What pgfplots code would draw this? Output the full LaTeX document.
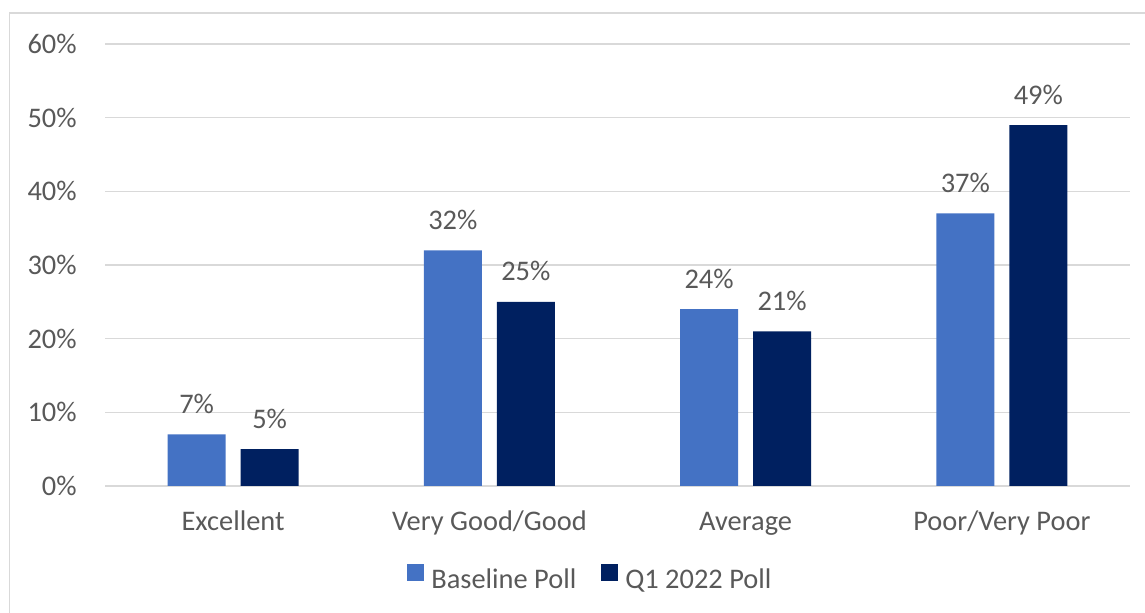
\documentclass[border=0pt]{standalone}
\usepackage{pgfplots}
\pgfplotsset{compat=1.18}
\usepackage{fontspec}
\setmainfont{Carlito}
\definecolor{basec}{HTML}{4472C4}
\definecolor{qc}{HTML}{002060}
\definecolor{txt}{HTML}{595959}
\definecolor{gridc}{HTML}{D9D9D9}
\begin{document}
\fontsize{14.2pt}{17pt}\selectfont
\begin{tikzpicture}
\path[use as bounding box] (0,0) rectangle (572.5pt,306.5pt);
\draw[gridc, line width=0.75pt] (4.75pt,0pt) -- (4.75pt,300pt) -- (572.5pt,300pt);
\begin{axis}[
  at={(52.5pt,63.5pt)}, anchor=south west,
  scale only axis, width=512.5pt, height=221pt,
  ybar=7.5pt, bar width=29pt,
  xmin=-0.5, xmax=3.5, ymin=0, ymax=60,
  xtick={0,1,2,3},
  xticklabels={Excellent,Very Good/Good,Average,Poor/Very Poor},
  ytick={0,10,20,30,40,50,60},
  yticklabel={\pgfmathprintnumber{\tick}\%},
  /pgf/number format/assume math mode=true,
  ymajorgrids, grid style={gridc, line width=0.75pt},
  axis line style={draw=none},
  major tick length=0pt,
  tick label style={font=\fontsize{14.2pt}{17pt}\selectfont, text=txt},
  xticklabel style={anchor=base, yshift=-22.5pt},
  yticklabel style={inner sep=0pt, anchor=east, xshift=-14pt},
  nodes near coords={\pgfmathprintnumber{\pgfplotspointmeta}\%},
  nodes near coords style={anchor=base, yshift=10.5pt, text=txt, font=\fontsize{14.2pt}{17pt}\selectfont, inner sep=0pt},
  clip=false,
  legend columns=2,
  legend style={at={(0.4745,-0.2127)}, anchor=center, draw=none, fill=none,
    font=\fontsize{14.2pt}{17pt}\selectfont, text=txt,
    /tikz/every odd column/.append style={column sep=1.5pt},
    /tikz/every even column/.append style={column sep=10.5pt}},
  legend image code/.code={\fill[#1] (0pt,0pt) rectangle (8.5pt,8.5pt);},
]
\addplot[fill=basec, draw=none] coordinates {(0,7) (1,32) (2,24) (3,37)};
\addplot[fill=qc, draw=none] coordinates {(0,5) (1,25) (2,21) (3,49)};
\legend{Baseline Poll, Q1 2022 Poll}
\end{axis}
\end{tikzpicture}
\end{document}
